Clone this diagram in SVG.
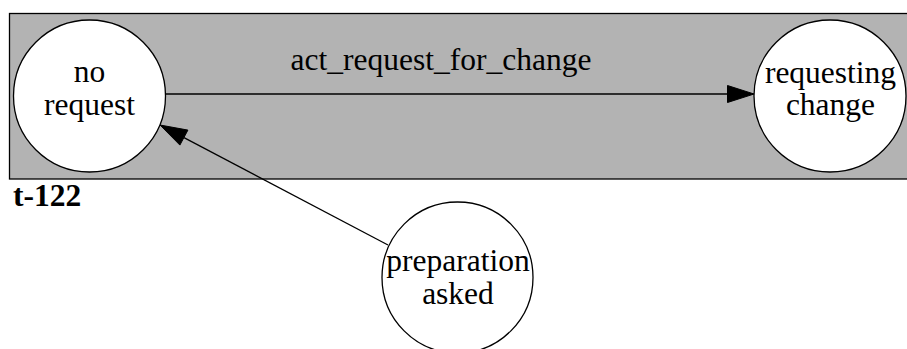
<svg xmlns="http://www.w3.org/2000/svg" width="907" height="349" viewBox="0 0 907 349">
<defs>
<style>
.node circle{fill:#ffffff;stroke:#000000;stroke-width:1.3}
text{font-family:"Liberation Serif","Times New Roman",serif;font-size:31.5px;fill:#000000;text-anchor:middle}
.edge{stroke:#000000;stroke-width:1.3;fill:none}
.head{fill:#000000;stroke:#000000;stroke-width:1}
</style>
</defs>
<rect width="907" height="349" fill="#ffffff"/>
<g id="cluster_t-122">
<rect x="9.5" y="13.5" width="900" height="165.5" fill="#b3b3b3" stroke="#000000" stroke-width="1.3"/>
<text x="13" y="206" style="text-anchor:start;font-weight:bold">t-122</text>
</g>
<g id="connectors">
<g id="e1">
<line class="edge" x1="165" y1="94" x2="728" y2="94"/>
<polygon class="head" points="754,94 727.5,85.5 727.5,102.5"/>
<text x="441" y="70">act_request_for_change</text>
</g>
<g id="e2">
<line class="edge" x1="388" y1="245" x2="184" y2="137.6"/>
<polygon class="head" points="160,125 187.9,130.1 179.9,145.1"/>
</g>
</g>
<g id="no_request" class="node">
<circle cx="89.5" cy="96" r="76"/>
<text x="89.5" y="82">no</text>
<text x="89.5" y="115">request</text>
</g>
<g id="requesting_change" class="node">
<circle cx="830" cy="96" r="76"/>
<text x="830.5" y="83">requesting</text>
<text x="830.5" y="115">change</text>
</g>
<g id="preparation_asked" class="node">
<circle cx="457.5" cy="277.5" r="75.5"/>
<text x="458" y="270.5">preparation</text>
<text x="458" y="303.5">asked</text>
</g>
</svg>
